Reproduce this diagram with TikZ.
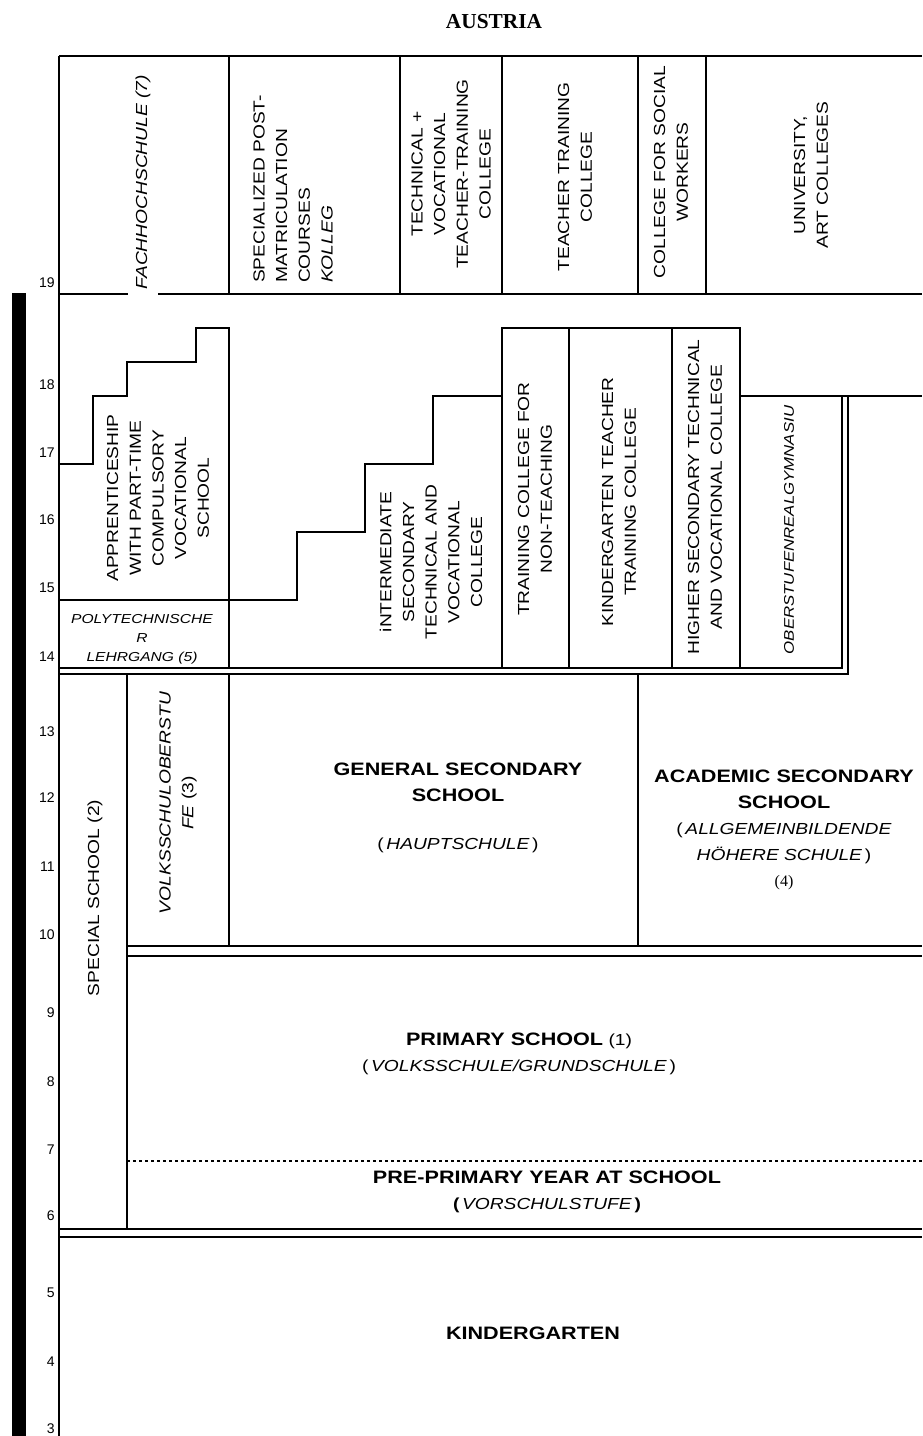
\documentclass[tikz,border=0pt]{standalone}
\usepackage{fontspec}
\newfontfamily\boxfont[FakeStretch=1.2]{Liberation Sans}
\newfontfamily\agefont{Liberation Sans}
\newfontfamily\serifbf{Liberation Serif}
\usetikzlibrary{positioning}

\newcommand{\hd}[1]{{\bfseries\fontsize{13.5}{19.5}\selectfont #1}}

\begin{document}
\begin{tikzpicture}[x=0.75pt, y=-0.75pt,
    rule/.style={line width=1.1pt},
    vlbl/.style={rotate=90, align=center, inner sep=0pt, font=\boxfont\fontsize{12}{17}\selectfont},
    hlbl/.style={align=center, inner sep=0pt, font=\boxfont\fontsize{12}{19.5}\selectfont},
    agelbl/.style={anchor=east, inner sep=0pt, font=\agefont\fontsize{10.5}{12}\selectfont},
]
    \useasboundingbox (0,0) rectangle (922,1436);

    \node[font=\serifbf\bfseries\fontsize{16}{19}\selectfont] (title) at (494,22) {AUSTRIA};

    % grid
    \draw[rule] (59,56) -- (922,56);
    \draw[rule] (59,56) -- (59,1436);
    \foreach \x in {229,400,502,638,706} \draw[rule] (\x,56) -- (\x,294);
    \draw[rule] (59,294) -- (128,294) (158,294) -- (922,294);

    \draw[rule] (59,464) -| (93,396) -| (127,362) -| (196,328) -| (229,668);
    \draw[rule] (59,600) -| (297,532) -| (365,464) -| (433,396) -- (502,396);
    \draw[rule] (502,668) -- (502,328) -- (740,328) -- (740,668);
    \foreach \x in {569,672} \draw[rule] (\x,328) -- (\x,668);
    \draw[rule] (740,396) -- (922,396);
    \draw[rule] (59,668) -| (842,396);
    \draw[rule] (59,674) -| (848,396);

    \draw[rule] (127,674) -- (127,1229);
    \foreach \x in {229,638} \draw[rule] (\x,674) -- (\x,946);
    \draw[rule] (127,946) -- (922,946);
    \draw[rule] (127,956) -- (922,956);
    \draw[rule, dash pattern=on 2.5pt off 2pt] (127,1161) -- (922,1161);
    \draw[rule] (59,1229) -- (922,1229);
    \draw[rule] (59,1237) -- (922,1237);

    % ages
    \fill (12,293) rectangle (26,1436);
    \foreach \a/\y in {19/283,18/385,17/453,16/520,15/588,14/657,13/732,12/798,11/867,10/935,9/1013,8/1082,7/1150,6/1216,5/1293,4/1362,3/1429}
        \node[agelbl] (age\a) at (55,\y) {\a};

    % tertiary
    \node[vlbl] (fhs) at (143,182) {\itshape FACHHOCHSCHULE (7)};
    \node[vlbl, align=left] (kolleg) at (293,189) {SPECIALIZED POST-\\MATRICULATION\\COURSES\\\textit{KOLLEG}};
    \node[vlbl] (tvttc) at (451,174) {TECHNICAL +\\VOCATIONAL\\TEACHER-TRAINING\\COLLEGE};
    \node[vlbl] (ttc) at (575,177) {TEACHER TRAINING\\COLLEGE};
    \node[vlbl] (csw) at (671,172) {COLLEGE FOR SOCIAL\\WORKERS};
    \node[vlbl] (univ) at (811,175) {UNIVERSITY,\\ART COLLEGES};

    % upper secondary
    \node[vlbl] (appr) at (158,498) {APPRENTICESHIP\\WITH PART-TIME\\COMPULSORY\\VOCATIONAL\\SCHOOL};
    \node[hlbl, font=\boxfont\itshape\fontsize{9.75}{14.25}\selectfont] (poly) at (142,639) {POLYTECHNISCHE\\R\\LEHRGANG (5)};
    \node[vlbl] (bms) at (431,562) {iNTERMEDIATE\\SECONDARY\\TECHNICAL AND\\VOCATIONAL\\COLLEGE};
    \node[vlbl] (nontc) at (535,499) {TRAINING COLLEGE FOR\\NON-TEACHING};
    \node[vlbl] (kgtc) at (619,502) {KINDERGARTEN TEACHER\\TRAINING COLLEGE};
    \node[vlbl] (bhs) at (705,497) {HIGHER SECONDARY TECHNICAL\\AND VOCATIONAL COLLEGE};
    \node[vlbl, font=\boxfont\itshape\fontsize{10.5}{14}\selectfont] (orgym) at (789,530) {OBERSTUFENREALGYMNASIU};

    % lower secondary, primary
    \node[vlbl] (sonder) at (95,898) {SPECIAL SCHOOL (2)};
    \node[vlbl] (vso) at (178,803) {\textit{VOLKSSCHULOBERSTU}\\\textit{FE} (3)};
    \node[hlbl] (hs) at (458,782) {\hd{GENERAL SECONDARY}\\\hd{SCHOOL}};
    \node[hlbl] (hsname) at (458,845) {(\,\textit{HAUPTSCHULE}\,)};
    \node[hlbl] (ahs) at (784,830) {\hd{ACADEMIC SECONDARY}\\\hd{SCHOOL}\\(\,\textit{ALLGEMEINBILDENDE}\\\textit{HÖHERE SCHULE}\,)\\{\serifbf (4)}};
    \node[hlbl] (vs) at (519,1054) {\hd{PRIMARY SCHOOL} (1)\\(\,\textit{VOLKSSCHULE/GRUNDSCHULE}\,)};
    \node[hlbl] (vorstufe) at (547,1192) {\hd{PRE-PRIMARY YEAR AT SCHOOL}\\\textbf{(}\,\textit{VORSCHULSTUFE}\,\textbf{)}};
    \node[hlbl] (kiga) at (533,1333) {\hd{KINDERGARTEN}};
\end{tikzpicture}
\end{document}
